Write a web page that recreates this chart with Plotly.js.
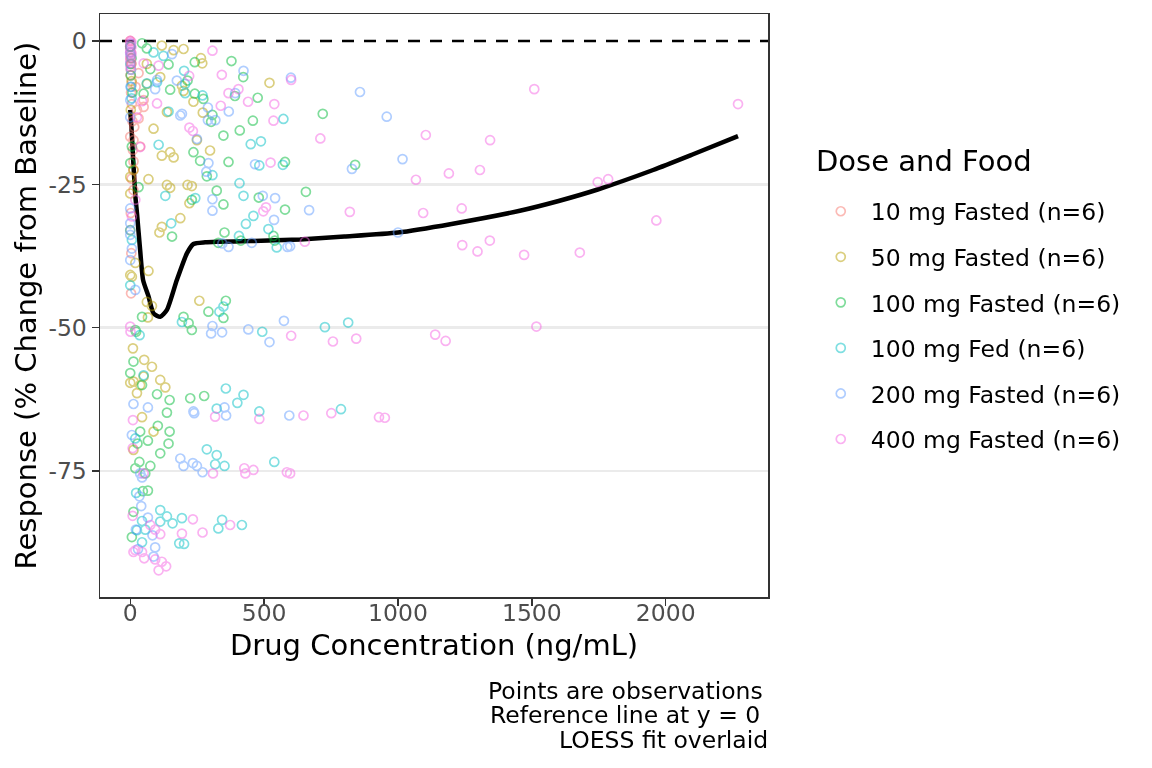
<!DOCTYPE html>
<html>
<head>
<meta charset="utf-8">
<script src="https://cdn.plot.ly/plotly-3.0.1.min.js"></script>
<style>
  body { margin: 0; background: #ffffff; }
  #myDiv { width: 1152px; height: 768px; }
</style>
</head>
<body>
<div id="myDiv"></div>
<script>
// groups in legend order
var groupNames = ["10 mg Fasted (n=6)", "50 mg Fasted (n=6)", "100 mg Fasted (n=6)",
                  "100 mg Fed (n=6)", "200 mg Fasted (n=6)", "400 mg Fasted (n=6)"];
var groupColors = ["#F8766D", "#B79F00", "#00BA38", "#00BFC4", "#619CFF", "#F564E3"];

// 10 mg Fasted
var conc10 = [0, 2, 4, 1, 3, 6, 8, 10, 5, 15, 20, 25, 31, 6, 50, 50, 31, 0, 12, 37, 12, 12, 12, 2, 0, 4, 3,
              0, 1, 2];
var resp10 = [0, -2, -4, -6, -9, -11, -14, -19, -24, -15, -8, -12, -5.6, -7.4, -10.3, -11.5, -13.5, -16.7, -17.3, -18.4, -21.0, -22.5, -26.0, -30, -33, -37, -44,
              -1, -3, -5];

// 50 mg Fasted
var conc50 = [0, 3, 5, 2, 199, 264, 269, 520, 193, 236, 271, 249, 298, 214, 230, 221, 187, 258,
              118, 162, 62, 112, 62, 199, 137, 87, 149, 162, 118, 68, 137, 149,
              118, 109, 68, 62, 81, 66, 10, 52, 81, 50, 0, 37, 112, 131, 25,
              44, 87, 12, 0, 12, 0, 19, 0, 6, 12];
var resp50 = [-1, -4, -7, -12, -1.4, -3.0, -3.9, -7.3, -7.8, -10.6, -12.5, -17.3, -19.1, -25.1, -25.3, -28.3, -30.9, -45.3,
              -0.8, -1.6, -4.0, -6.3, -7.5, -8.7, -12.4, -15.3, -19.4, -20.3, -20.0, -24.1, -25.1, -25.6,
              -32.4, -33.4, -40.1, -45.5, -46.2, -48.2, -53.6, -55.6, -56.8, -58.5, -59.6, -60.0, -59.1, -60.4, -61.4,
              -65.6, -68.1, -71.3, -23.7, -22.5, -26.6, -38.7, -40.8, -41.1, -59.4];

// 100 mg Fasted
var conc100 = [719, 840, 656, 241, 378, 422, 214, 241, 273, 391, 476, 307, 302, 458, 348, 409, 236, 261, 367, 578,
               286, 323, 230, 348, 480, 578, 352, 413, 329, 535, 540, 357, 292, 199, 218, 230, 348, 224, 276,
               143, 75, 149, 50, 31, 156, 44, 22, 12, 0, 100, 147,
               137, 103, 147, 37, 66, 27, 143, 112, 34, 19, 75, 56, 47, 66, 12, 6,
               44, 62, 6, 0, 19, 44, 0, 5, 2, 8];
var resp100 = [-12.7, -21.6, -26.3, -3.7, -3.5, -6.3, -6.9, -9.2, -10.1, -9.6, -9.9, -12.9, -14.1, -13.9, -16.5, -15.6, -19.4, -20.9, -21.1, -21.1,
               -23.6, -26.1, -27.7, -28.5, -27.3, -29.4, -33.4, -34.8, -35.2, -34.0, -34.8, -45.3, -47.2, -48.1, -49.2, -50.4, -48.3, -62.3, -61.9,
               -4.1, -4.9, -8.5, -9.2, -25.5, -34.1, -48.1, -50.7, -55.9, -57.9, -61.6, -62.6,
               -64.8, -67.1, -68.1, -68.1, -69.7, -70.2, -70.2, -71.9, -73.4, -74.5, -74.1, -75.4, -78.5, -78.4, -82.1, -86.5,
               -0.4, -1.3, -18.4, -21.3, -50.4, -60.0, -1, -3, -6, -9];

// 100 mg Fed
var conc100fed = [727, 814, 787, 201, 205, 270, 572, 450, 488, 482, 570, 307, 408, 243, 423, 460, 432, 516, 406, 547,
                  348, 333, 193, 493, 357, 423, 400, 323, 482, 286, 323, 317, 352, 538, 193, 343, 329, 417, 201,
                  87, 124, 100, 205, 143, 106, 131, 153, 35,
                  19, 22, 44, 112, 137, 112, 56, 158, 44, 183,
                  62, 0, 6, 0, 50, 25, 0, 3, 5, 1, 2];
var resp100fed = [-49.9, -49.1, -64.2, -5.2, -9.1, -9.5, -13.6, -18.0, -17.5, -21.7, -21.6, -23.4, -24.8, -27.4, -27.0, -30.5, -31.9, -32.8, -34.0, -36.0,
                  -46.3, -47.2, -49.0, -50.7, -60.6, -61.7, -63.1, -64.1, -64.6, -71.2, -72.2, -73.8, -74.1, -73.4, -83.2, -83.5, -85.0, -84.4, -87.7,
                  -2.0, -2.6, -7.2, -7.5, -12.3, -18.1, -27.0, -31.8, -51.3,
                  -69.3, -78.8, -83.7, -81.8, -82.9, -83.8, -85.2, -84.1, -87.4, -87.6,
                  -7.4, -33.0, -34.7, -42.6, -58.3, -85.3, -4, -8, -10, -1, -2.5];

// 200 mg Fasted
var conc200 = [858, 958, 828, 1017, 668, 1000, 597, 423, 600, 392, 290, 368, 193, 290, 318, 249, 292, 466, 284, 307,
               307, 495, 541, 537, 344, 367, 454, 587, 307, 302, 343, 441, 520, 574, 352, 236, 239, 358, 594,
               187, 199, 234, 249, 270, 156, 174, 93, 187, 0,
               12, 66, 6, 44, 34, 41, 66, 21, 83, 93, 29, 87,
               100, 0, 0, 0, 0, 6, 0, 19, 37, 0, 3, 1, 2];
var resp200 = [-8.9, -13.2, -22.3, -20.6, -29.5, -33.4, -35.8, -5.2, -6.4, -9.1, -11.6, -12.3, -12.7, -13.8, -13.8, -17.1, -21.3, -21.5, -22.8, -27.6,
               -29.6, -27.0, -27.4, -31.2, -35.3, -35.9, -35.2, -35.9, -49.7, -51.0, -50.8, -50.3, -52.5, -48.8, -63.9, -64.6, -64.9, -65.3, -65.3,
               -72.8, -74.1, -73.6, -74.1, -75.2, -2.3, -6.9, -8.4, -13.0, -13.3,
               -63.3, -63.9, -68.7, -76.1, -79.4, -81.1, -83.1, -85.2, -86.2, -88.3, -88.6, -89.9,
               -6.8, -10.3, -29.2, -31.8, -33.8, -36.2, -38.2, -43.4, -75.4, -2, -5, -8, -0.5];

// 400 mg Fasted
var conc400 = [1509, 2270, 1746, 1785, 1965, 1471, 1679, 1517, 601, 710, 1104, 1344, 1067, 1190, 1306, 820, 1094, 1238,
               652, 1240, 1297, 1343, 601, 757, 844, 1139, 1178, 647, 751, 929, 951, 597, 585,
               307, 220, 342, 367, 404, 440, 538, 338, 535, 221, 234, 524, 497, 507,
               317, 482, 309, 426, 430, 460, 234, 373, 270, 193,
               106, 100, 44, 25, 37, 1,
               10, 9, 9, 75, 93, 112, 12, 44, 52, 93, 118, 134, 106,
               0, 2, 1, 3, 0, 4, 19, 6, 50, 19, 50, 0,
               1, 3, 0, 2, 5, 1, 0, 2, 4, 1, 3, 0];
var resp400 = [-8.4, -11.0, -24.6, -24.1, -31.3, -37.3, -36.9, -49.8, -6.8, -17.0, -16.4, -17.3, -24.2, -23.1, -22.5, -29.8, -30.0, -29.2,
               -35.0, -35.6, -36.7, -34.8, -51.4, -52.4, -51.9, -51.2, -52.3, -65.3, -64.9, -65.6, -65.7, -75.4, -75.2,
               -1.7, -6.1, -5.9, -9.1, -8.4, -10.6, -11.0, -11.3, -13.9, -15.1, -15.7, -21.2, -29.7, -29.0,
               -65.5, -65.9, -75.4, -74.5, -75.4, -74.8, -83.4, -84.4, -85.7, -85.9,
               -4.3, -10.9, -10.5, -13.3, -18.5, -50.7,
               -66.1, -71.0, -82.8, -84.4, -85.2, -86.0, -89.1, -89.1, -90.2, -90.4, -90.8, -91.6, -92.3,
               0, -0.5, -1.5, -2.5, -3.5, -1, -27.7, -30.6, -75.4, -88.8, -3.9, -49.8,
               -0.3, -1.2, -2.0, -3.0, -2.2, -4.5, -0.8, -1.8, -0.2, -2.8, -3.8, -1.4];

// LOESS fit
var loessConc = [0, 5, 11, 19, 25, 37, 48, 68, 87, 112, 137, 174, 212, 236, 280, 323, 450, 634,
                 800, 1000, 1200, 1455, 1600, 1746, 1953, 2100, 2270];
var loessResp = [-12, -15.5, -20.8, -27, -30, -36.5, -41.7, -44.5, -47.5, -48.1, -46.9, -41.7, -37, -35.4, -35.1, -35, -34.9, -34.6,
                 -34.1, -33.4, -31.9, -29.6, -27.9, -25.9, -22.5, -19.8, -16.6];

var gridVals = [-75, -50, -25];

var concs = [conc10, conc50, conc100, conc100fed, conc200, conc400];
var resps = [resp10, resp50, resp100, resp100fed, resp200, resp400];

var font = "DejaVu Sans, sans-serif";

function makePlot(){
    var data = [];

    data.push({
        x: loessConc,
        y: loessResp,
        type: "scatter",
        mode: "lines",
        line: {color: "#000000", width: 4.5, shape: "spline", smoothing: 0.6},
        showlegend: false,
        hoverinfo: "skip"
    });

    for (let i = 0; i < groupNames.length; i++){
        data.push({
            x: concs[i],
            y: resps[i],
            name: groupNames[i],
            legendgroup: "g" + i,
            type: "scatter",
            mode: "markers",
            opacity: 0.5,
            marker: {
                symbol: "circle-open",
                size: 9,
                color: groupColors[i],
                line: {width: 1.7, color: groupColors[i]}
            }
        });
    }

    var layout = {
        width: 1152,
        height: 768,
        paper_bgcolor: "#ffffff",
        plot_bgcolor: "#ffffff",
        font: {family: font, color: "#000000"},
        margin: {l: 100, r: 384, t: 14, b: 171, autoexpand: false},
        showlegend: true,
        xaxis: {
            range: [-113, 2382],
            tickvals: [0, 500, 1000, 1500, 2000],
            showgrid: false,
            zeroline: false,
            showline: true,
            mirror: true,
            linecolor: "#333333",
            linewidth: 1.5,
            ticks: "outside",
            ticklen: 7,
            tickwidth: 1.5,
            tickcolor: "#333333",
            ticklabelstandoff: -13,
            tickfont: {size: 23.5, color: "#4D4D4D"},
            automargin: true,
            title: {text: "Drug Concentration (ng/mL)", font: {size: 29}, standoff: 9}
        },
        yaxis: {
            range: [-96.95, 4.7],
            tickvals: [-75, -50, -25, 0],
            ticktext: ["-75", "-50", "-25", "0"],
            showgrid: false,
            minor: {
                tickvals: gridVals,
                showgrid: true,
                gridcolor: "#EBEBEB",
                gridwidth: 2.5,
                ticks: ""
            },
            zeroline: false,
            showline: true,
            mirror: true,
            linecolor: "#333333",
            linewidth: 1.5,
            ticks: "outside",
            ticklen: 7,
            tickwidth: 1.5,
            tickcolor: "#333333",
            tickfont: {size: 23.5, color: "#4D4D4D"},
            title: {text: "Response (% Change from Baseline)", font: {size: 29}, standoff: 3}
        },
        shapes: [{
            type: "line",
            xref: "paper", x0: 0, x1: 1,
            yref: "y", y0: 0, y1: 0,
            layer: "below",
            line: {color: "#000000", width: 2.5, dash: "12px,10px"}
        }],
        legend: {
            x: 1.064,
            y: 0.699,
            xanchor: "left",
            yanchor: "top",
            bgcolor: "rgba(0,0,0,0)",
            font: {size: 23.5, color: "#000000"},
            itemwidth: 50,
            tracegroupgap: 12
        },
        annotations: [
            {text: "Dose and Food", xref: "paper", yref: "paper", x: (814 - 100) / 668, y: (597 - 161) / 583,
             xanchor: "left", yanchor: "middle", showarrow: false, font: {size: 29}},
            {text: "Points are observations", xref: "paper", yref: "paper", x: 0.996, y: -0.161,
             xanchor: "right", yanchor: "middle", showarrow: false, font: {size: 23.5}},
            {text: "Reference line at y = 0", xref: "paper", yref: "paper", x: 0.991, y: -0.2024,
             xanchor: "right", yanchor: "middle", showarrow: false, font: {size: 23.5}},
            {text: "LOESS fit overlaid", xref: "paper", yref: "paper", x: 1.003, y: -0.2453,
             xanchor: "right", yanchor: "middle", showarrow: false, font: {size: 23.5}}
        ]
    };

    Plotly.newPlot("myDiv", data, layout, {staticPlot: true});
}

makePlot();
</script>
</body>
</html>
